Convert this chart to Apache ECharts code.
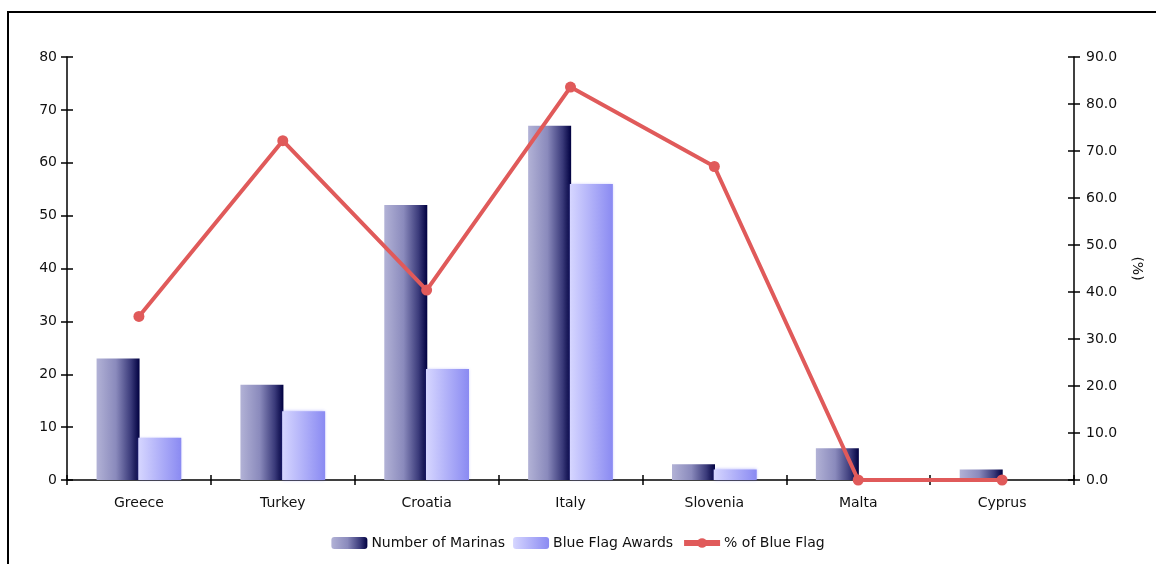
<!DOCTYPE html>
<html>
<head>
<meta charset="utf-8">
<script src="https://cdn.jsdelivr.net/npm/echarts@6/dist/echarts.min.js"></script>
<style>html,body{margin:0;padding:0;background:#fff}#c{width:1156px;height:564px}</style>
</head>
<body>
<div id="c"></div>
<script>
const categories = ['Greece','Turkey','Croatia','Italy','Slovenia','Malta','Cyprus'];
const marinas = [23, 18, 52, 67, 3, 6, 2];
const blueFlag = [8, 13, 21, 56, 2, 0, 0];
const pctBlueFlag = [34.8, 72.2, 40.4, 83.6, 66.7, 0.0, 0.0];
const leftTicks = [0, 10, 20, 30, 40, 50, 60, 70, 80];
const rightTicks = [0, 10, 20, 30, 40, 50, 60, 70, 80, 90];

const chart = echarts.init(document.getElementById('c'));
const font = 'DejaVu Sans, Verdana, sans-serif';
const darkGrad = new echarts.graphic.LinearGradient(0,0,1,0,[
  {offset:0,color:'#b2b2d6'},{offset:0.45,color:'#8a8abc'},{offset:0.8,color:'#3a3a7a'},{offset:1,color:'#000040'}]);
const lightGrad = new echarts.graphic.LinearGradient(0,0,1,0,[
  {offset:0,color:'#d6d6ff'},{offset:1,color:'#8a8af2'}]);
const axisLine = {show:true, lineStyle:{color:'#000', width:1.5}};
const txt = {fontFamily:font, fontSize:14, color:'#111'};
chart.setOption({
  animation:false,
  graphic:[{type:'rect', shape:{x:8,y:12,width:1300,height:700}, style:{fill:'none',stroke:'#000',lineWidth:2}, z:100}],
  grid:{left:67,right:82,top:57,bottom:84},
  legend:{
    bottom:9, left:'center', itemWidth:36, itemHeight:12, itemGap:8,
    textStyle:Object.assign({}, txt, {padding:[0,0,0,-1]}),
    data:[{name:'Number of Marinas'},{name:'Blue Flag Awards'},
      {name:'% of Blue Flag', itemStyle:{color:'#e05a5a'}, lineStyle:{width:6, color:'#e05a5a'}}]
  },
  xAxis:[{
    type:'category', data:categories, axisLine:axisLine,
    axisTick:{show:true, length:5, lineStyle:{color:'#000',width:1.5}},
    axisLabel:Object.assign({}, txt, {margin:16}),
    splitLine:{show:false}
  },{
    type:'category', data:categories, position:'bottom', axisLine:{show:false},
    axisTick:{show:true, inside:true, length:5, lineStyle:{color:'#000',width:1.5}},
    axisLabel:{show:false}
  }],
  yAxis:[{
    type:'value', min:0, max:80, interval:10, position:'left', axisLine:axisLine,
    axisTick:{show:true, length:6, lineStyle:{color:'#000',width:1.5}},
    axisLabel:Object.assign({}, txt, {margin:10}),
    splitLine:{show:false}
  },{
    type:'value', min:0, max:90, interval:10, position:'right', axisLine:axisLine,
    axisTick:{show:true, length:6, lineStyle:{color:'#000',width:1.5}},
    axisLabel:Object.assign({}, txt, {margin:12, formatter:v=>v.toFixed(1)}),
    splitLine:{show:false},
    name:'(%)', nameLocation:'middle', nameRotate:-90, nameGap:56,
    nameTextStyle:txt
  },{
    type:'value', min:0, max:80, interval:10, position:'left', axisLine:{show:false},
    axisTick:{show:true, inside:true, length:6, lineStyle:{color:'#000',width:1.5}},
    axisLabel:{show:false}, splitLine:{show:false}
  },{
    type:'value', min:0, max:90, interval:10, position:'right', axisLine:{show:false},
    axisTick:{show:true, inside:true, length:6, lineStyle:{color:'#000',width:1.5}},
    axisLabel:{show:false}, splitLine:{show:false}
  }],
  series:[{
    name:'Number of Marinas', type:'bar', data:marinas, yAxisIndex:0,
    barWidth:43, barGap:'-3%',
    itemStyle:{color:darkGrad}
  },{
    name:'Blue Flag Awards', type:'bar', data:blueFlag, yAxisIndex:0,
    barWidth:43,
    itemStyle:{color:lightGrad, shadowBlur:3, shadowColor:'rgba(110,110,255,0.45)'}
  },{
    name:'% of Blue Flag', type:'line', data:pctBlueFlag, yAxisIndex:1, z:10,
    symbol:'circle', symbolSize:11,
    lineStyle:{color:'#e05a5a', width:4},
    itemStyle:{color:'#e05a5a'}
  }]
});
</script>
</body>
</html>
